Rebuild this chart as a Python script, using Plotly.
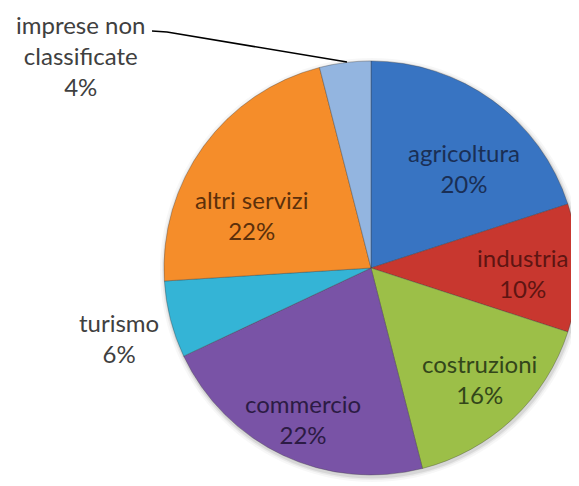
import math
import plotly.graph_objects as go

# page has an 8px body margin, so the figure is drawn 8px in from the window edge
PAD = 8
W, H = 579 - PAD, 486 - PAD

# slices, clockwise from 12 o'clock
labels = ["agricoltura", "industria", "costruzioni", "commercio",
          "turismo", "altri servizi", "imprese non classificate"]
values = [20, 10, 16, 22, 6, 22, 4]
colors = ["#3874c2", "#c8372f", "#9cbf48", "#7953a6", "#34b4d6", "#f58d2a", "#93b5e0"]
text_colors = ["#1a2f55", "#5e1512", "#33461a", "#2c1b44", "#1a5566", "#5c300b", "#44556b"]

# label placement tweaks: fraction of radius, and angle shift (deg) off the bisector
label_r = [0.66, 0.73, 0.75, 0.80, 0, 0.63, 0]
label_da = [7, 2, -1, -1, 0, -12, 0]
outside = {"turismo", "imprese non classificate"}

# pie placement in window pixels (centre ~ (371, 268), radius ~ 207)
cx, cy, r = 371, 268, 207


def px_x(x):
    return (x - PAD) / W


def px_y(y):
    return 1 - (y - PAD) / H


FONT = "Lato"
FSIZE = 24

fig = go.Figure(go.Pie(
    labels=labels,
    values=values,
    sort=False,
    direction="clockwise",
    rotation=0,
    marker=dict(colors=colors, line=dict(color="rgba(60,60,60,0.35)", width=1)),
    textinfo="none",
    hoverinfo="skip",
    showlegend=False,
    domain=dict(x=[px_x(cx - r), px_x(cx + r)], y=[px_y(cy + r), px_y(cy - r)]),
))

# soft shadow around the pie
for k, a in [(5, 0.03), (3, 0.05), (1.5, 0.08)]:
    fig.add_shape(
        type="circle", xref="paper", yref="paper", layer="below",
        x0=px_x(cx - r - k + 1), x1=px_x(cx + r + k + 1),
        y0=px_y(cy + r + k + 2), y1=px_y(cy - r - k + 2),
        fillcolor=f"rgba(0,0,0,{a})", line=dict(width=0),
    )

# inside labels
total = sum(values)
cum = 0
for lab, v, col, fr, da in zip(labels, values, text_colors, label_r, label_da):
    mid = (cum + v / 2) / total * 2 * math.pi + math.radians(da)
    cum += v
    if lab in outside:
        continue
    x = cx + fr * r * math.sin(mid)
    y = cy - fr * r * math.cos(mid)
    fig.add_annotation(
        x=px_x(x), y=px_y(y), xref="paper", yref="paper",
        xanchor="center", yanchor="middle",
        text=f"{lab}<br>{v}%", showarrow=False, align="center",
        font=dict(family=FONT, size=FSIZE, color=col),
    )

# outside labels
fig.add_annotation(
    x=px_x(80), y=px_y(55), xref="paper", yref="paper",
    xanchor="center", yanchor="middle",
    text=f"imprese non<br>classificate<br>{values[6]}%",
    showarrow=False, align="center",
    font=dict(family=FONT, size=FSIZE, color="#404040"),
)
fig.add_annotation(
    x=px_x(119), y=px_y(338), xref="paper", yref="paper",
    xanchor="center", yanchor="middle",
    text=f"turismo<br>{values[4]}%",
    showarrow=False, align="center",
    font=dict(family=FONT, size=FSIZE, color="#404040"),
)

# leader line for "imprese non classificate"
fig.add_shape(
    type="path", xref="paper", yref="paper",
    path=f"M {px_x(152)},{px_y(31)} L {px_x(167)},{px_y(32)} L {px_x(347)},{px_y(62)}",
    line=dict(color="black", width=1.7),
)

fig.update_layout(
    width=W, height=H,
    margin=dict(l=0, r=0, t=0, b=0),
    paper_bgcolor="white",
    plot_bgcolor="white",
)

fig.write_html("out.html")
